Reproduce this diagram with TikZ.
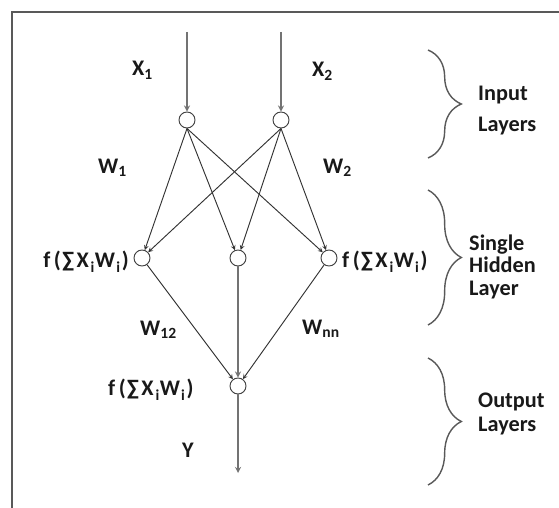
\documentclass[tikz,border=0pt]{standalone}
\usepackage{fontspec}
\setmainfont{Carlito}
\usetikzlibrary{arrows,positioning,decorations.pathreplacing}
\newcommand{\lowsub}[1]{\raisebox{-0.55ex}{\fontsize{13}{13}\selectfont #1}}

\begin{document}
\begin{tikzpicture}[
    x=0.03cm, y=-0.03cm,
    neuron/.style={circle, draw=black!75, fill=white, line width=0.8pt, minimum size=0.48cm, inner sep=0pt},
    lbl/.style={font=\bfseries\fontsize{19}{20}\selectfont, inner sep=0pt, text=black!90},
    side/.style={lbl, align=left, anchor=base west},
    arrow/.style={->,>=stealth, line width=0.8pt, draw=black!80},
    feed/.style={->,>=stealth, line width=1.3pt, draw=black!55},
    layerbrace/.style={decorate, decoration={brace, amplitude=1cm}, line width=1.2pt, draw=black!65}
]
\useasboundingbox (0,0) rectangle (559,508);

% Frame
\draw[line width=2pt, black!65] (12,508) -- (12,12) -- (559,12);

% Input
\coordinate (x1src) at (187,32);
\coordinate (x2src) at (281,32);
\node[neuron] (in1) at (187,120) {};
\node[neuron] (in2) at (281,120) {};
\node[lbl, anchor=base west] (x1lbl) at (132,76) {X\textsubscript{1}};
\node[lbl, anchor=base west] (x2lbl) at (312,77) {X\textsubscript{2}};
\node[lbl, anchor=base west] (w1lbl) at (98,173) {W\textsubscript{1}};
\node[lbl, anchor=base west] (w2lbl) at (323,173) {W\textsubscript{2}};

% Hidden layer
\node[neuron] (h1) at (142,258) {};
\node[neuron] (h2) at (238,258) {};
\node[neuron] (h3) at (329,258) {};
\node[lbl, anchor=base east] (h1lbl) at (129,267) {f\hspace{3pt}(\kern1pt∑\kern2pt X\kern1.5pt\lowsub{i}\kern0.5pt W\kern1pt\lowsub{i}\kern1.5pt)};
\node[lbl, anchor=base west] (h3lbl) at (342,267) {f\hspace{3pt}(\kern1pt∑\kern2pt X\kern1.5pt\lowsub{i}\kern0.5pt W\kern1pt\lowsub{i}\kern1.5pt)};
\node[lbl, anchor=base west] (w12lbl) at (140,335) {W\textsubscript{12}};
\node[lbl, anchor=base west] (wnnlbl) at (302,334) {W\textsubscript{nn}};

% Output
\node[neuron] (out) at (238,386) {};
\coordinate (ysink) at (238,473);
\node[lbl, anchor=base west] (outlbl) at (108,395) {f\hspace{3pt}(\kern1pt∑\kern2pt X\kern1.5pt\lowsub{i}\kern0.5pt W\kern1pt\lowsub{i}\kern1.5pt)};
\node[lbl, anchor=base west] (ylbl) at (182,457) {Y};

% Arrows
\draw[feed] (x1src) -- (in1);
\draw[feed] (x2src) -- (in2);
\draw[arrow] (in1.south) -- (h1);
\draw[arrow] (in1.south) -- (h2);
\draw[arrow] (in1.south) -- (h3);
\draw[arrow] (in2.south) -- (h1);
\draw[arrow] (in2.south) -- (h2);
\draw[arrow] (in2.south) -- (h3);
\draw[arrow] (h1) -- (out);
\draw[feed] (h2) -- (out);
\draw[arrow] (h3) -- (out);
\draw[feed] (out) -- (ysink);

% Braces
\coordinate (inTop) at (428,50);
\coordinate (inBot) at (428,158);
\coordinate (hidTop) at (428,190);
\coordinate (hidBot) at (428,325);
\coordinate (outTop) at (428,358);
\coordinate (outBot) at (428,485);
\draw[layerbrace] (inTop) -- (inBot);
\draw[layerbrace] (hidTop) -- (hidBot);
\draw[layerbrace] (outTop) -- (outBot);
\node[side] (inname) at (478,132) {Input\\[7pt]Layers};
\node[side] (hidname) at (469,295) {Single\\[-1pt]Hidden\\[-1pt]Layer};
\node[side] (outname) at (478,431) {Output\\[0pt]Layers};

\end{tikzpicture}
\end{document}
